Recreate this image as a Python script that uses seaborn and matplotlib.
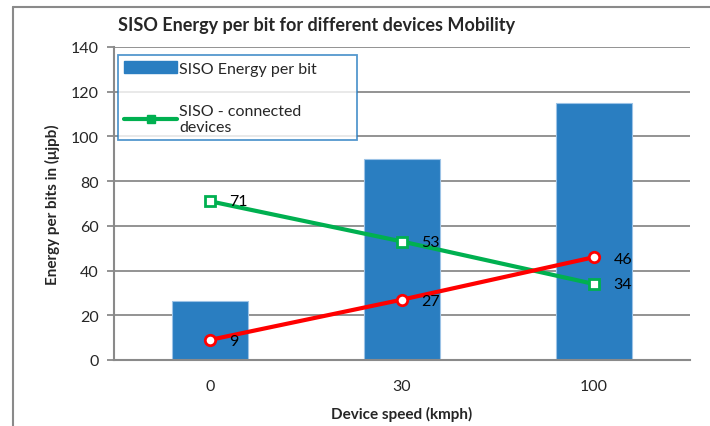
import matplotlib
matplotlib.use("Agg")
import matplotlib.pyplot as plt
from matplotlib.lines import Line2D
from matplotlib.patches import Patch
import seaborn as sns
import pandas as pd

# Device speeds (kmph) and measured series
speeds = ["0", "30", "100"]
energy_per_bit = [26.5, 90, 115]
connected_devices = [71, 53, 34]
second_series = [9, 27, 46]

BAR_BLUE = "#2A7EC1"
GREEN = "#00B050"
RED = "#FF0000"
GRAY = "#8A8A8A"

sns.set_theme(style="white")
plt.rcParams["font.family"] = ["Lato", "DejaVu Sans"]

df = pd.DataFrame({
    "speed": speeds,
    "energy": energy_per_bit,
    "connected": connected_devices,
    "other": second_series,
})

fig = plt.figure(figsize=(7.1, 4.27), dpi=100)
W, H = 710, 427
ax = fig.add_axes([114 / W, 1 - 361 / H, (690 - 114) / W, (361 - 48) / H])

sns.barplot(data=df, x="speed", y="energy", color=BAR_BLUE, width=0.4,
            edgecolor="#9CC3E6", linewidth=0.8, saturation=1, ax=ax, zorder=2)

sns.pointplot(data=df, x="speed", y="connected", color=GREEN, markers="s",
              linewidth=3, markersize=6.5, ax=ax)
sns.pointplot(data=df, x="speed", y="other", color=RED, markers="o",
              linewidth=3, markersize=7.5, ax=ax)

for ln in ax.lines:
    ln.set_markerfacecolor("white")
    ln.set_markeredgewidth(2)
    ln.set_zorder(4)

# value labels next to the points
for i, (g, r) in enumerate(zip(connected_devices, second_series)):
    ax.annotate(f"{g}", (i, g), xytext=(14, 0), textcoords="offset points",
                ha="left", va="center", fontsize=11.5, color="black", zorder=5)
    ax.annotate(f"{r}", (i, r), xytext=(14, -1), textcoords="offset points",
                ha="left", va="center", fontsize=11.5, color="black", zorder=5)

ax.set_ylim(0, 140)
ax.set_xlim(-0.5, 2.5)
ax.set_yticks(range(0, 141, 20))
ax.yaxis.grid(True, color=GRAY, linewidth=1.3)
ax.set_axisbelow(True)

for s in ("top", "right"):
    ax.spines[s].set_visible(False)
for s in ("left", "bottom"):
    ax.spines[s].set_color(GRAY)
    ax.spines[s].set_linewidth(1.5)

ax.set_xticks([-0.5, 0.5, 1.5, 2.5], minor=True)
ax.tick_params(axis="x", which="major", length=0, pad=14, labelsize=11.5)
ax.tick_params(axis="x", which="minor", length=4, width=1.3, color=GRAY,
               direction="out")
ax.tick_params(axis="y", length=5, width=1.3, color=GRAY, direction="out",
               left=True, labelsize=11.5, pad=6)

ax.set_xlabel("Device speed (kmph)", fontsize=11, fontweight="bold", labelpad=9)
ax.set_ylabel("Energy per bits in (μjpb)", fontsize=11, fontweight="bold",
              labelpad=8)

handles = [
    Patch(facecolor=BAR_BLUE, edgecolor=BAR_BLUE),
    Line2D([0], [0], color=GREEN, linewidth=3, marker="s", markersize=6,
           markerfacecolor=GREEN),
]
leg = ax.legend(handles, ["SISO Energy per bit", "SISO - connected\ndevices"],
                loc="upper left", bbox_to_anchor=(118 / W, 1 - 56 / H),
                bbox_transform=fig.transFigure, fontsize=11.5, frameon=True,
                fancybox=False, edgecolor=BAR_BLUE, borderpad=0.4,
                handlelength=3.3, handletextpad=0.15, labelspacing=1.75,
                borderaxespad=0, alignment="left")
leg.get_frame().set_linewidth(1.3)
leg._legend_box.set_width(226)
leg.set_zorder(6)

fig.text(118 / W, 1 - 25 / H, "SISO Energy per bit for different devices Mobility",
         fontsize=13, fontweight="bold", ha="left", va="center")

# outer chart frame (left and top edges)
fig.add_artist(Line2D([13 / W, 13 / W], [0, 1 - 8 / H], transform=fig.transFigure,
                      color=GRAY, linewidth=1.5))
fig.add_artist(Line2D([13 / W, 1], [1 - 8 / H, 1 - 8 / H], transform=fig.transFigure,
                      color=GRAY, linewidth=1.5))

fig.savefig("out.png", dpi=100)
